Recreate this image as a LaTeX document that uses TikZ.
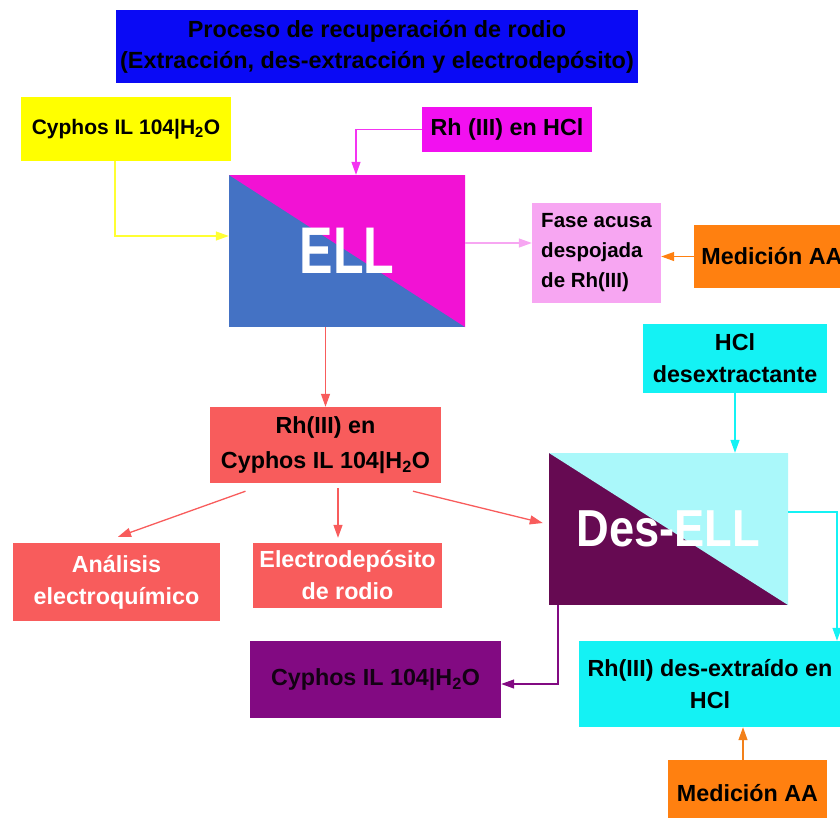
\documentclass[tikz,border=0pt]{standalone}
\usepackage{fontspec}
\setmainfont{Liberation Sans}
\usepackage{graphicx}
\usetikzlibrary{arrows.meta,calc}
\definecolor{TitleClr}{HTML}{0A0AF5}
\definecolor{YellowClr}{HTML}{FFFF00}
\definecolor{MagClr}{HTML}{F210F0}
\definecolor{EllBlue}{HTML}{4472C4}
\definecolor{EllPink}{HTML}{F212D4}
\definecolor{FaseClr}{HTML}{F7A6F2}
\definecolor{OrangeClr}{HTML}{FF8010}
\definecolor{CyanClr}{HTML}{14F2F4}
\definecolor{DesPurple}{HTML}{660A52}
\definecolor{DesCyan}{HTML}{AAF8FA}
\definecolor{SalmonClr}{HTML}{F85C5C}
\definecolor{PurpleClr}{HTML}{820A82}

\begin{document}
\begin{tikzpicture}[x=1pt,y=-1pt,
  bx/.style={inner sep=0pt,align=center,font=\fontsize{23.3}{32}\selectfont\bfseries},
  sz/.style 2 args={minimum width=#1,minimum height=#2},
  split/.style 2 args={fill=#1,path picture={\fill[#2] (path picture bounding box.north west) -- (path picture bounding box.north east) -- (path picture bounding box.south east) -- cycle;}},
  arr/.style={draw=#1,line width=1.3pt,-{Triangle[length=13pt,width=9pt]}}]
\useasboundingbox (0,0) rectangle (840,817);
\clip (0,0) rectangle (840,817);

% boxes
\node[bx,fill=TitleClr,sz={522pt}{73pt},font=\fontsize{23.4}{31}\selectfont\bfseries] (title) at (377,46.5)
  {Proceso de recuperación de rodio\\(Extracción, des-extracción y electrodepósito)};
\node[bx,fill=YellowClr,sz={210pt}{64pt},font=\fontsize{21}{28}\selectfont\bfseries] (cyph) at (126,129) {Cyphos IL 104|H\textsubscript{2}O};
\node[bx,fill=MagClr,sz={170pt}{45pt}] (rhhcl) at (507,129.5) {Rh (III) en HCl};
\node[bx,split={EllBlue}{EllPink},sz={236pt}{152pt},text=white,font=\fontsize{66}{66}\selectfont\bfseries] (ell) at (347,251) {\scalebox{0.76}[1]{ELL}};
\node[bx,fill=FaseClr,sz={129pt}{100pt},align=left,font=\fontsize{20.5}{30}\selectfont\bfseries] (fase) at (596.5,253) {Fase acusa\\despojada\\de Rh(III)};
\node[bx,fill=OrangeClr,sz={156pt}{63pt}] (medA) at (772,256.5) {Medición AA};
\node[bx,fill=CyanClr,sz={184pt}{69pt}] (hcl) at (735,358.5) {HCl\\desextractante};
\node[bx,fill=SalmonClr,sz={231pt}{76pt},font=\fontsize{23.3}{35}\selectfont\bfseries] (rhcy) at (325.5,445) {Rh(III) en\\Cyphos IL 104|H\textsubscript{2}O};
\node[bx,split={DesPurple}{DesCyan},sz={239pt}{152pt},text=white,font=\fontsize{52}{52}\selectfont\bfseries] (desell) at (668.5,529) {\scalebox{0.87}[1]{Des-ELL}};
\node[bx,fill=SalmonClr,sz={207pt}{78pt},text=white] (anal) at (116.5,582) {Análisis\\electroquímico};
\node[bx,fill=SalmonClr,sz={189pt}{65pt},text=white] (elec) at (347.5,575.5) {Electrodepósito\\de rodio};
\node[bx,fill=PurpleClr,sz={251pt}{77pt},text=black!85!PurpleClr] (cyp2) at (375.5,679.5) {Cyphos IL 104|H\textsubscript{2}O};
\node[bx,fill=CyanClr,sz={262pt}{86pt}] (rhdes) at (710,684) {Rh(III) des-extraído en\\HCl};
\node[bx,fill=OrangeClr,sz={159pt}{66pt}] (medB) at (747.5,793) {Medición AA};

% connectors
\draw[arr=YellowClr!80!white] ([xshift=-11pt]cyph.south) |- ([yshift=15pt]ell.west);
\draw[arr=MagClr!85!white] (rhhcl.west) -| ([xshift=9pt]ell.north);
\draw[arr=FaseClr] ([yshift=8pt]ell.east) -- ([yshift=8pt]ell.east -| fase.west);
\draw[arr=OrangeClr] (medA.west) -- (medA.west -| fase.east);
\draw[arr=SalmonClr] (ell.south -| rhcy.north) -- (rhcy.north);
\draw[arr=SalmonClr] ([xshift=-80pt,yshift=-8pt]rhcy.south) -- ([xshift=1.5pt,yshift=6pt]anal.north);
\draw[arr=SalmonClr] ([xshift=12.5pt,yshift=-5pt]rhcy.south) -- ([xshift=-9.5pt,yshift=5pt]elec.north);
\draw[arr=SalmonClr] ([xshift=87.5pt,yshift=-8pt]rhcy.south) -- ([xshift=-6pt,yshift=6pt]desell.west);
\draw[arr=CyanClr] (hcl.south) -- (hcl.south |- desell.north);
\draw[arr=CyanClr] ([yshift=17pt]desell.east) -| ([xshift=127pt]rhdes.north);
\draw[arr=PurpleClr] ([xshift=-110.5pt]desell.south) |- ([yshift=-4.5pt]cyp2.east);
\draw[arr=OrangeClr!80!brown] ([xshift=-4.5pt]medB.north) -- ([xshift=-4.5pt]medB.north |- rhdes.south);

\end{tikzpicture}
\end{document}
